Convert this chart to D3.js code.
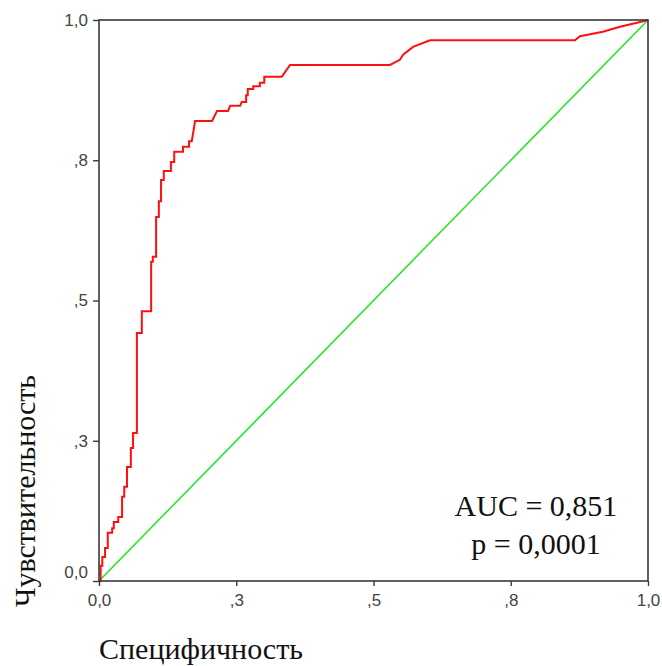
<!DOCTYPE html>
<html>
<head>
<meta charset="utf-8">
<script src="https://cdn.jsdelivr.net/npm/d3@7.9.0/dist/d3.min.js"></script>
<style>
  body { margin: 0; background: #fff; }
  svg { display: block; }
</style>
</head>
<body>
<svg id="chart" width="662" height="666"></svg>
<script>
// === Data ===
const fpr = [0, 0.003, 0.003, 0.006, 0.006, 0.011, 0.011, 0.016, 0.016, 0.024, 0.024, 0.027, 0.027,
  0.035, 0.035, 0.042, 0.042, 0.046, 0.046, 0.051, 0.051, 0.058, 0.058, 0.062, 0.062, 0.069, 0.069,
  0.078, 0.078, 0.095, 0.095, 0.098, 0.098, 0.104, 0.104, 0.109, 0.109, 0.113, 0.113, 0.118, 0.118,
  0.131, 0.131, 0.137, 0.137, 0.153, 0.153, 0.164, 0.164, 0.169, 0.175, 0.206, 0.215, 0.235, 0.239,
  0.257, 0.260, 0.268, 0.268, 0.271, 0.271, 0.281, 0.281, 0.293, 0.293, 0.301, 0.301, 0.333, 0.348,
  0.530, 0.548, 0.554, 0.572, 0.603, 0.867, 0.876, 0.918, 0.949, 0.980, 1];
const tpr = [0, 0, 0.027, 0.027, 0.043, 0.043, 0.059, 0.059, 0.086, 0.086, 0.094, 0.094, 0.105,
  0.105, 0.114, 0.114, 0.150, 0.150, 0.168, 0.168, 0.203, 0.203, 0.237, 0.237, 0.264, 0.264, 0.442,
  0.442, 0.481, 0.481, 0.569, 0.569, 0.578, 0.578, 0.649, 0.649, 0.677, 0.677, 0.715, 0.715, 0.731,
  0.731, 0.747, 0.747, 0.765, 0.765, 0.774, 0.774, 0.784, 0.784, 0.820, 0.820, 0.838, 0.838, 0.847,
  0.847, 0.854, 0.854, 0.866, 0.866, 0.877, 0.877, 0.882, 0.882, 0.888, 0.888, 0.899, 0.899, 0.920,
  0.920, 0.929, 0.938, 0.952, 0.964, 0.964, 0.971, 0.979, 0.988, 0.995, 1];
const tickValues = [0, 0.25, 0.5, 0.75, 1];
const tickLabels = ['0,0', ',3', ',5', ',8', '1,0'];
const xTitle = 'Специфичность';
const yTitle = 'Чувствительность';
const annotation = ['AUC = 0,851', 'p = 0,0001'];

// === Layout ===
const margin = { left: 99, right: 14, top: 20, bottom: 85 };
const W = 662, H = 666;
const svg = d3.select('#chart');
const serif = '"Liberation Serif", "Times New Roman", serif';

const x = d3.scaleLinear().domain([0, 1]).range([margin.left, W - margin.right]);
const y = d3.scaleLinear().domain([0, 1]).range([H - margin.bottom, margin.top]);

const roc = fpr.map((f, i) => [f, tpr[i]]);

// reference diagonal
svg.append('path')
  .datum([[0, 0], [1, 1]])
  .attr('d', d3.line().x(d => x(d[0])).y(d => y(d[1])))
  .attr('fill', 'none')
  .attr('stroke', '#1ee81e')
  .attr('stroke-width', 1.5);

// ROC curve
svg.append('path')
  .datum(roc)
  .attr('d', d3.line().x(d => x(d[0])).y(d => y(d[1])))
  .attr('fill', 'none')
  .attr('stroke', '#ff1010')
  .attr('stroke-width', 2);

// frame
svg.append('rect')
  .attr('x', x(0)).attr('y', y(1))
  .attr('width', x(1) - x(0)).attr('height', y(0) - y(1))
  .attr('fill', 'none')
  .attr('stroke', '#3a3a3a')
  .attr('stroke-width', 1.6);

// axes
const xAxis = d3.axisBottom(x).tickValues(tickValues)
  .tickFormat((d, i) => tickLabels[i]).tickSize(5).tickPadding(8);
const yAxis = d3.axisLeft(y).tickValues(tickValues)
  .tickFormat((d, i) => tickLabels[i]).tickSize(6).tickPadding(5);

const gx = svg.append('g').attr('transform', `translate(0,${y(0)})`).call(xAxis);
const gy = svg.append('g').attr('transform', `translate(${x(0)},0)`).call(yAxis);

[gx, gy].forEach(g => {
  g.select('.domain').remove();
  g.selectAll('.tick line').attr('stroke', '#3a3a3a').attr('stroke-width', 1.4);
  g.selectAll('.tick text')
    .attr('fill', '#444')
    .style('font-family', '"Liberation Sans", Arial, sans-serif')
    .style('font-size', '17px');
});
// 0,0 on the y axis sits a little above its tick
gy.selectAll('.tick text').filter(d => d === 0).attr('dy', '-0.2em');

// titles
svg.append('text')
  .attr('x', 99).attr('y', 659)
  .style('font-family', serif)
  .style('font-size', '30px')
  .attr('fill', '#111')
  .text(xTitle);

svg.append('text')
  .attr('transform', 'translate(35,491) rotate(-90)')
  .attr('text-anchor', 'middle')
  .style('font-family', serif)
  .style('font-size', '30px')
  .attr('fill', '#111')
  .text(yTitle);

// AUC annotation
annotation.forEach((t, i) => {
  svg.append('text')
    .attr('x', 536).attr('y', 516 + i * 38)
    .attr('text-anchor', 'middle')
    .style('font-family', serif)
    .style('font-size', '30px')
    .attr('fill', '#111')
    .text(t);
});
</script>
</body>
</html>
